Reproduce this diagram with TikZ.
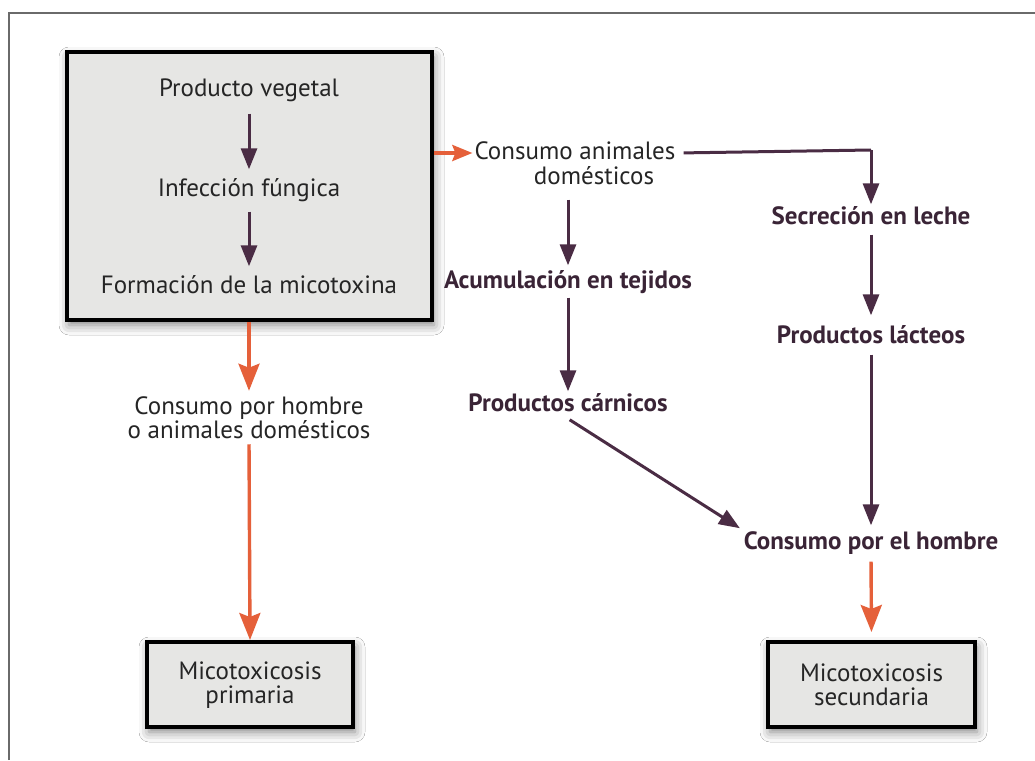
\documentclass[tikz,border=0pt]{standalone}
\usepackage{fontspec}
\setmainfont{PT Sans}
\usetikzlibrary{arrows.meta,shadows.blur}
\definecolor{darkarrow}{HTML}{4A2C44}
\definecolor{orangearrow}{HTML}{E5603A}
\definecolor{lefttext}{HTML}{252525}
\definecolor{righttext}{HTML}{3A2436}
\definecolor{boxfill}{HTML}{E6E6E4}
\definecolor{framecol}{HTML}{6A6A6A}
\tikzset{
  lbl/.style={font=\fontsize{25}{24}\selectfont, text=lefttext, inner sep=2pt, text height=18pt, text depth=5pt},
  mlbl/.style={font=\fontsize{25}{24}\selectfont, text=lefttext, inner sep=2pt, align=center},
  rlbl/.style={font=\fontsize{25}{24}\selectfont\bfseries, text=righttext, inner sep=2pt, text height=18pt, text depth=5pt},
  bigbox/.style={draw=black, line width=4pt, fill=boxfill, inner sep=0pt,
    blur shadow={shadow xshift=2pt, shadow yshift=-5pt, shadow blur radius=10pt, shadow opacity=50}},
  darr/.style={draw=darkarrow, line width=3pt, -{Triangle[length=21pt,width=16pt]}},
  oarr/.style={draw=orangearrow, line width=3.4pt, -{Stealth[length=27pt,width=21pt,inset=4pt]}},
  oarrs/.style={draw=orangearrow, line width=3.4pt, -{Stealth[length=20pt,width=16pt,inset=3pt]}},
  dline/.style={draw=darkarrow, line width=3pt}
}
\begin{document}
\begin{tikzpicture}[x=1pt,y=-1pt]
\useasboundingbox (0,0) rectangle (1035,760);
\fill[white] (0,0) rectangle (1035,760);
% outer frame (only top and left visible)
\draw[framecol, line width=2pt] (9,760) -- (9,13) -- (1035,13);

% boxes
\node[bigbox, minimum width=365pt, minimum height=268pt] (box) at (249.5,186) {};
\node[bigbox, minimum width=206pt, minimum height=85pt] (prim) at (250,684.5) {};
\node[bigbox, minimum width=207pt, minimum height=85pt] (secd) at (871.5,684.5) {};
\node[mlbl] (primt) at (250,685) {Micotoxicosis\\primaria};
\node[mlbl] (secdt) at (871.5,685) {Micotoxicosis\\secundaria};

% texts inside main box
\node[lbl] (pv) at (249,90) {Producto vegetal};
\node[lbl] (inf) at (249,190) {Infección fúngica};
\node[lbl] (form) at (249,287) {Formación de la micotoxina};

% left column
\node[mlbl] (cph) at (249,418) {Consumo por hombre\\o animales domésticos};

% middle / right
\node[lbl] (cad1) at (575,153) {Consumo animales};
\node[lbl] (cad2) at (594,178) {domésticos};
\node[rlbl] (acu) at (568,282) {Acumulación en tejidos};
\node[rlbl] (car) at (568,405) {Productos cárnicos};
\node[rlbl] (sec) at (871,218) {Secreción en leche};
\node[rlbl] (lac) at (871,337) {Productos lácteos};
\node[rlbl] (cel) at (871,543) {Consumo por el hombre};
\coordinate (k1) at (871,150);

% arrows inside main box
\draw[darr, shorten <=10pt, shorten >=7pt] (pv.south) -- (inf.north);
\draw[darr, shorten <=8pt, shorten >=7pt] (inf.south) -- (form.north);

% orange arrows
\draw[oarr, shorten >=4pt] (box.south -| cph.north) -- (cph.north);
\draw[oarr, shorten <=3pt] (cph.south) -- (prim.north);
\draw[oarrs] (box.east |- cad1.west) -- (cad1.west);
\draw[oarr, shorten <=5pt, shorten >=8pt] (cel.south) -- (secd.north);

% dark connectors
\draw[dline, shorten <=6pt] (cad1.east) -- (k1);
\draw[darr] (k1) -- (sec.north);
\draw[darr, shorten <=8pt, shorten >=3pt] (cad2.south -| acu.north) -- (acu.north);
\draw[darr, shorten <=2pt] (acu.south) -- (car.north);
\draw[darr, shorten <=2pt, shorten >=2pt] (car.south) -- (cel.north west);
\draw[darr, shorten <=3pt, shorten >=8pt] (sec.south) -- (lac.north);
\draw[darr, shorten <=4pt, shorten >=4pt] (lac.south) -- (cel.north);
\end{tikzpicture}
\end{document}
